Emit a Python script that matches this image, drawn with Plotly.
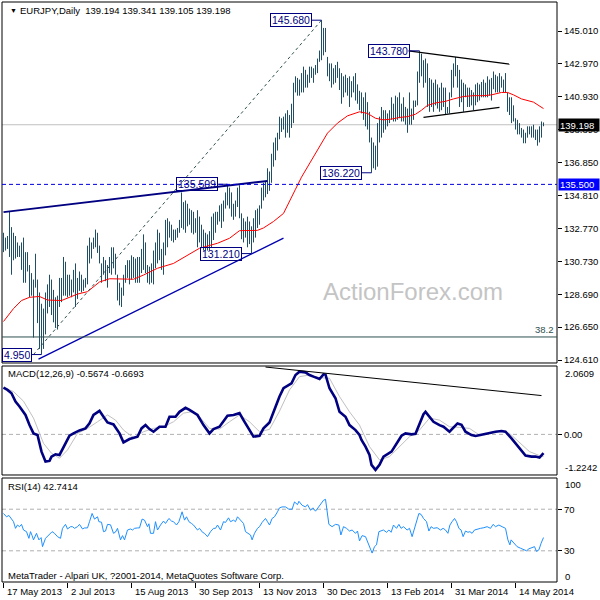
import plotly.graph_objects as go

# ---------------- data ----------------
date_labels = ["17 May 2013", "2 Jul 2013", "15 Aug 2013", "30 Sep 2013", "13 Nov 2013",
               "30 Dec 2013", "13 Feb 2014", "31 Mar 2014", "14 May 2014"]
date_label_idx = [0, 32, 64, 96, 128, 160, 192, 224, 256]

price_ticks = [145.010, 142.970, 140.930, 138.890, 136.850, 134.810, 132.770, 130.730, 128.690, 126.650, 124.610]

opens = [
 132.3,131.6,132.0,132.2,131.3,130.8,131.9,131.3,131.5,131.2,
 131.6,129.8,130.8,130.4,128.8,129.5,129.3,129.5,127.4,125.8,
 127.7,126.2,128.4,128.9,129.5,127.8,127.3,128.2,128.4,129.4,
 128.9,130.7,129.2,129.6,129.0,128.9,130.0,128.4,129.5,129.3,
 129.1,129.2,129.4,131.4,131.0,131.6,131.8,132.4,131.7,130.6,
 130.0,130.8,129.8,130.1,130.9,130.3,131.2,129.9,128.6,128.4,
 128.8,129.6,130.2,130.4,129.6,130.8,130.3,130.6,129.7,130.8,
 131.3,131.9,130.4,129.8,130.1,129.6,131.1,131.5,132.3,131.0,
 130.5,131.6,133.0,132.2,132.9,132.3,132.5,132.2,132.6,133.1,
 134.4,133.0,134.2,133.3,133.5,132.9,133.4,132.7,133.5,132.2,
 132.4,131.7,132.2,131.6,132.4,133.2,132.5,133.6,133.3,134.0,
 133.2,134.3,134.8,134.6,135.0,133.8,134.1,134.2,135.0,133.7,
 132.5,133.0,132.5,133.1,132.0,132.6,133.1,133.7,133.3,134.0,
 135.1,135.0,135.5,136.2,135.8,137.2,137.4,138.2,138.3,139.5,
 139.0,139.4,138.8,139.8,139.2,140.3,141.6,141.5,141.8,141.3,
 142.2,141.6,142.3,141.8,142.6,142.4,142.5,142.7,143.1,143.6,
 145.1,144.6,143.4,142.5,142.7,142.7,142.0,142.6,142.4,141.6,
 141.7,141.2,142.0,141.4,140.9,141.6,141.5,141.2,140.9,140.4,
 140.7,139.9,140.6,139.3,138.4,136.9,137.7,137.0,138.9,139.4,
 139.0,139.8,139.3,139.7,139.6,140.5,139.8,140.7,139.9,140.5,
 139.7,140.3,139.5,139.9,139.5,139.9,140.4,140.5,142.2,143.2,
 142.5,142.9,142.2,140.6,141.8,140.6,141.5,140.7,141.4,140.3,
 141.5,140.8,140.1,140.2,140.9,142.3,142.6,142.5,141.8,140.6,
 141.6,141.0,141.3,140.6,141.2,140.7,140.9,141.5,141.1,141.5,
 141.2,141.7,141.2,141.9,141.3,141.9,141.7,142.0,141.5,142.1,
 141.8,141.5,141.2,140.3,140.0,140.4,139.6,139.2,138.8,138.9,
 138.6,138.3,138.4,138.9,138.8,138.6,138.5,138.4,138.2,138.9,139.194]

highs = [
 132.5,132.2,132.3,133.8,132.85,132.5,132.3,131.9,131.7,131.9,
 132.2,131.3,131.3,130.5,130.0,129.6,131.2,129.6,128.8,128.1,
 127.8,128.8,129.3,129.9,129.6,128.96,128.5,128.6,129.7,129.7,
 131.0,130.7,129.9,129.9,129.6,130.2,130.6,129.7,130.1,129.9,
 129.6,129.7,131.7,132.2,131.9,132.2,132.7,132.5,131.7,130.6,
 131.0,130.8,130.5,131.0,131.6,131.6,131.2,129.9,129.4,129.1,
 129.9,130.5,130.8,130.8,131.1,131.0,130.9,131.0,131.0,131.5,
 132.4,131.9,130.5,130.4,130.6,131.4,131.9,132.7,132.5,131.5,
 131.9,133.3,133.4,133.2,133.0,132.7,132.7,132.8,133.3,135.0,
 134.4,134.5,134.3,134.0,133.9,133.8,133.4,133.9,133.5,133.0,
 132.7,132.5,132.4,132.6,133.5,133.7,133.8,133.8,134.2,134.3,
 134.5,135.0,135.51,135.3,135.0,134.3,134.5,135.3,135.45,133.7,
 133.4,133.2,133.5,133.2,132.9,133.4,133.9,134.0,134.2,135.3,
 135.6,135.7,136.5,136.3,137.4,138.1,138.4,138.7,139.7,139.6,
 139.7,139.9,140.1,139.8,140.5,141.8,142.2,142.1,142.0,142.4,
 142.8,142.6,142.3,142.8,142.8,142.7,142.9,143.3,143.8,145.68,
 145.2,145.2,143.4,143.0,143.0,142.7,142.9,143.1,142.7,142.4,
 142.2,142.3,142.1,142.2,141.9,142.2,142.4,141.7,141.3,141.2,
 140.9,141.2,140.6,140.0,138.4,138.1,137.9,139.3,139.7,140.3,
 140.1,140.1,139.9,140.1,140.9,140.5,141.0,140.9,141.2,140.5,
 140.9,140.3,140.2,141.2,140.2,140.7,140.7,142.5,143.78,143.6,
 143.2,143.3,143.0,142.1,142.0,141.8,142.0,141.7,141.5,141.8,
 141.5,141.5,140.3,141.2,142.6,143.0,143.4,142.9,142.6,142.0,
 141.8,141.7,141.5,141.5,141.35,141.2,141.7,141.8,141.7,141.85,
 142.0,141.8,142.2,142.0,142.1,142.5,142.3,142.2,142.4,142.2,
 142.0,142.4,141.2,140.9,140.9,140.4,139.6,139.5,139.3,139.0,
 138.9,138.7,139.1,139.1,139.1,139.2,138.9,138.9,139.1,139.4,139.341]

lows = [
 131.3,131.4,131.5,131.0,129.9,130.8,130.9,131.0,131.0,130.2,
 129.4,129.4,130.1,128.5,128.6,126.0,129.1,126.9,125.3,124.95,
 125.3,126.2,127.5,127.9,127.4,126.95,126.6,126.5,127.9,128.2,
 128.6,128.6,128.5,128.6,128.5,128.8,127.9,128.4,128.9,128.8,
 128.9,129.1,129.3,130.6,130.9,131.5,131.6,131.25,130.6,129.4,
 129.9,129.5,129.1,130.0,129.9,130.3,129.9,128.3,128.0,127.9,
 128.6,129.4,129.7,129.3,129.6,129.7,129.4,129.4,129.4,130.0,
 130.2,130.0,129.4,129.3,129.4,129.3,130.3,130.6,130.8,130.2,
 129.9,131.1,131.6,132.2,132.0,131.9,132.05,132.2,132.5,132.8,
 132.7,132.5,132.9,133.0,132.5,132.4,132.5,131.6,131.9,131.6,
 131.4,131.4,131.4,131.4,131.6,132.05,132.5,133.0,133.2,132.8,
 133.2,134.0,134.2,134.0,133.5,133.3,133.5,134.1,133.4,132.1,
 131.9,132.2,131.6,131.8,131.21,131.9,132.2,132.8,133.0,134.0,
 134.5,134.7,134.9,135.1,135.6,136.6,137.0,137.6,138.3,138.75,
 138.9,138.4,138.7,138.4,139.0,139.3,141.2,141.0,141.0,141.2,
 141.2,141.5,141.5,141.8,142.1,141.8,142.3,142.4,143.1,143.2,
 143.5,143.7,142.2,141.9,141.5,141.7,141.8,142.1,141.35,140.5,
 140.9,141.2,141.0,140.3,140.9,141.2,140.7,140.5,140.1,139.9,
 139.5,139.1,138.9,138.1,136.22,136.5,136.4,136.6,138.1,138.4,
 138.7,138.9,139.1,139.3,139.5,139.4,139.4,139.5,139.6,139.4,
 139.4,139.2,138.7,139.2,139.2,139.5,140.3,140.4,141.8,142.2,
 141.5,141.8,140.3,140.0,140.3,140.0,140.4,140.2,140.0,140.1,
 140.3,139.8,139.9,139.9,140.9,141.5,142.2,141.5,140.3,140.6,
 140.0,140.9,140.3,140.3,140.4,140.1,140.4,140.6,140.7,140.9,
 140.9,140.9,140.9,141.0,140.7,141.4,141.2,141.2,141.2,141.5,
 141.2,141.2,140.0,139.8,139.3,139.4,138.9,138.6,138.6,138.4,
 138.05,138.05,138.4,138.6,138.4,138.4,138.25,137.9,138.1,138.4,139.105]

closes = [
 131.6,132.0,132.2,131.3,130.8,131.9,131.3,131.5,131.2,131.6,
 129.8,130.8,130.4,128.8,129.5,127.0,130.9,127.4,125.8,127.7,
 126.2,128.4,128.9,129.5,127.8,127.3,128.2,128.4,129.4,128.9,
 130.7,129.2,129.6,129.0,128.9,130.0,128.4,129.5,129.3,129.1,
 129.2,129.4,131.4,131.0,131.6,131.8,132.4,131.7,130.8,129.6,
 130.9,129.8,129.3,130.9,130.3,131.3,130.1,128.6,128.4,128.8,
 129.6,130.2,130.4,129.6,130.8,130.3,130.6,129.7,130.8,131.3,
 131.9,130.4,129.8,130.1,129.6,131.1,131.5,132.3,131.0,130.5,
 131.6,133.0,132.1,132.9,132.3,132.5,132.2,132.6,133.1,134.6,
 133.0,134.2,133.3,133.5,132.9,133.4,132.7,133.5,132.2,132.4,
 131.7,132.2,131.6,132.4,133.2,132.4,133.6,133.3,134.0,133.2,
 134.3,134.8,134.6,135.0,133.8,134.1,134.2,135.0,133.7,132.5,
 133.0,132.5,133.1,132.0,132.6,133.1,133.7,133.3,134.0,135.1,
 135.0,135.5,136.2,135.8,137.2,137.4,138.2,138.0,139.5,139.0,
 139.4,138.8,139.9,139.2,140.3,141.6,141.5,141.8,141.3,142.2,
 141.6,142.3,141.8,142.6,142.4,142.5,142.7,143.1,143.6,145.1,
 144.6,143.9,142.5,142.7,142.8,142.0,142.6,142.4,141.6,141.7,
 141.2,142.0,141.4,140.8,141.6,141.5,141.2,140.9,140.4,140.7,
 139.9,140.6,139.3,138.4,136.9,137.7,137.0,138.9,139.4,139.0,
 139.8,139.3,139.7,139.6,140.6,139.8,140.7,139.9,140.9,139.7,
 140.6,139.5,139.9,139.5,139.9,140.4,140.5,142.2,143.2,142.5,
 142.9,142.2,140.6,141.8,140.6,141.5,140.7,141.4,140.3,141.5,
 140.8,140.1,140.2,140.9,142.3,142.6,142.5,141.8,140.6,141.6,
 140.4,141.3,140.6,141.2,140.7,140.9,141.5,141.1,141.5,141.2,
 141.7,141.2,141.9,141.3,141.9,141.7,142.0,141.5,142.1,141.8,
 141.5,141.3,140.3,140.0,140.6,139.6,139.2,138.8,138.9,138.6,
 138.3,138.4,138.9,138.8,138.6,138.5,138.4,138.2,138.9,139.2,139.198]

# moving average (red) read at bar positions
ma_points = [(0,127.0),(5,127.8),(9,128.3),(13,128.5),(18,128.55),(22,128.33),(29,128.3),(33,128.5),
             (37,128.7),(42,128.85),(48,129.45),(53,129.65),(58,129.62),(65,129.62),(70,129.88),
             (77,130.3),(85,130.6),(92,131.1),(98,131.54),(107,131.85),(113,132.16),(118,132.63),
             (122,132.65),(127,132.65),(130,132.8),(135,133.2),(140,133.7),(143,134.5),(146,135.2),
             (149,135.95),(152,136.6),(155,137.2),(159,138.05),(162,138.68),(167,139.3),(172,139.75),
             (178,140.0),(182,139.9),(186,139.6),(190,139.5),(194,139.55),(198,139.65),(202,139.7),
             (206,139.85),(209,140.1),(212,140.4),(216,140.55),(221,140.65),(225,140.8),(230,140.95),
             (235,141.0),(240,141.0),(244,141.05),(249,141.2),(252,141.2),(255,141.05),(259,140.8),
             (265,140.6),(270,140.2)]

macd_points = [(0,1.41),(2,1.34),(4,1.24),(6,0.99),(8,0.84),(11,0.585),(13,0.28),(15,0.03),(17,-0.02),
               (18,-0.26),(19,-0.52),(21,-0.82),(23,-0.80),(24,-0.67),(26,-0.60),(28,-0.62),(30,-0.37),
               (33,-0.04),(35,0.03),(38,0.12),(41,0.18),(43,0.33),(45,0.585),(48,0.71),(50,0.53),
               (52,0.36),(55,0.30),(58,0.03),(60,-0.24),(63,-0.14),(67,-0.07),(69,0.18),(71,0.28),
               (73,0.16),(75,0.08),(78,0.23),(81,0.23),(83,0.53),(86,0.53),(88,0.68),(91,0.80),
               (93,0.74),(97,0.585),(100,0.28),(103,0.03),(105,0.16),(108,0.23),(112,0.56),(115,0.585),
               (118,0.64),(120,0.43),(123,0.13),(125,-0.07),(128,-0.04),(130,0.18),(133,0.36),
               (135,0.68),(138,1.14),(140,1.39),(143,1.49),(144,1.54),(146,1.79),(148,1.89),(151,1.87),
               (153,1.79),(155,1.74),(158,1.67),(160,1.81),(161,1.80),(163,1.39),(166,1.09),(168,0.68),
               (171,0.53),(173,0.28),(176,0.13),(178,-0.02),(179,-0.17),(181,-0.37),(183,-0.62),
               (184,-0.92),(186,-1.07),(188,-0.92),(190,-0.67),(194,-0.52),(196,-0.32),(199,-0.04),
               (201,0.03),(204,0.0),(206,0.02),(208,0.33),(210,0.61),(211,0.68),(213,0.53),(215,0.38),
               (218,0.28),(220,0.23),(223,0.08),(225,0.20),(227,0.33),(229,0.29),(231,0.08),(234,-0.02),
               (236,-0.05),(239,-0.01),(242,0.03),(246,0.08),(249,0.10),(251,0.08),(254,-0.12),
               (256,-0.27),(259,-0.50),(261,-0.64),(264,-0.67),(266,-0.67),(268,-0.70),(270,-0.5674)]

signal_points = [(0,1.41),(5,1.29),(10,1.0),(15,0.49),(20,-0.27),(24,-0.57),(28,-0.72),(32,-0.47),
                 (37,0.03),(42,0.18),(47,0.38),(52,0.585),(56,0.43),(60,0.13),(65,-0.10),(70,0.08),
                 (75,0.18),(80,0.23),(85,0.38),(90,0.64),(94,0.68),(98,0.53),(103,0.18),(108,0.16),
                 (113,0.38),(118,0.585),(123,0.38),(128,0.08),(133,0.15),(138,0.70),(143,1.34),
                 (148,1.74),(153,1.79),(158,1.71),(163,1.69),(168,1.14),(173,0.68),(178,0.28),
                 (183,-0.37),(188,-0.77),(193,-0.67),(198,-0.37),(203,-0.07),(208,0.13),(213,0.49),
                 (218,0.43),(223,0.23),(228,0.21),(233,0.18),(238,-0.02),(243,0.03),(248,0.10),
                 (253,0.03),(258,-0.23),(263,-0.52),(268,-0.64),(270,-0.6693)]

rsi_points = [(0,65.9),(1.5,62.7),(2.7,64),(3.8,61),(5,58),(6,51.6),(7,54.8),(8,53.2),(9,55.4),(10,50),
              (11.5,48.4),(12.7,42),(13.5,48.4),(14.3,44.6),(15,40.5),(16.5,46.8),(17.7,40.5),(18.8,42.7),
              (19.5,34),(21,42),(22.7,45.2),(24.3,48.4),(25.5,46.8),(27,43.6),(28.5,42),(29.5,51.6),
              (31,55.4),(32,51),(33.5,53.2),(34.5,53.2),(35.5,51.6),(37,53.2),(38,55.4),(39.5,51),
              (40.5,52),(42,52),(43,58),(44.3,65.9),(45.5,60.5),(47,62.7),(47.7,58),(49,57.5),(50,48.4),
              (51,49),(52,55.4),(53.5,55),(55,46.8),(56,48),(57,51.6),(58.5,40.5),(59.5,44.6),
              (60.5,40.5),(62,50),(63.5,51),(64.5,50),(65.5,51.6),(67,52),(68,52),(69.3,60.5),
              (70.5,59.5),(72,53.2),(72.7,56),(73.5,46.8),(75,46.8),(76,58),(77,50),(78.5,54.8),
              (80,58.6),(81,56.3),(82.7,61.1),(84,58.6),(85,58),(86.5,54.8),(87.7,58),(89.3,67.5),
              (90.5,59.5),(91.5,62.7),(92.7,58),(94,56.3),(95,54.8),(97,50),(98,51.6),(99.5,47.8),
              (100.5,46.8),(102,43.6),(103.5,48.4),(105,51.6),(106,51.6),(107,54.8),(108.5,50),(110,58),
              (111,57.3),(112.5,61.7),(113.5,58),(115,59.5),(116,58),(117,62.7),(118.5,59.5),(120,56.3),
              (121,48.4),(122.5,46.8),(123.5,45.2),(124.3,40.5),(125.5,46.8),(127,51.6),(128,53.2),
              (129.3,57.3),(131,61.1),(132,58),(133,54.8),(134.3,61.1),(135.5,62.7),(137,67.5),
              (138,71.3),(139.3,72.2),(141,72.2),(142.7,70),(144.3,70),(145.5,77),(147,74.4),
              (147.7,77.6),(149.3,73.8),(151,72.2),(152,74.4),(153.5,69),(154.7,71.3),(156,68.1),
              (157.2,71.3),(158.5,75.4),(160,78.6),(161,79.5),(162,67.5),(162.7,55.4),(164.3,53.2),
              (166,55.4),(167.7,54.8),(168.7,45.2),(170,53.2),(171.5,51.6),(173,49),(174.3,50),
              (176,46.8),(177,49),(178,39.5),(179.3,44.6),(181,43.6),(182.2,37.3),(183.2,33.2),
              (184.3,27.8),(185.5,34),(186.5,35.7),(187.7,48.4),(188.8,49),(190,50),(191.5,47.8),
              (192.7,50),(193.8,47.8),(195,54.8),(196.5,51.6),(197.7,55.4),(198.8,51.6),(200,53.2),
              (201.8,50),(203,51.6),(204.3,43.6),(205.5,51.6),(206.8,59.5),(207.7,65.9),(208.8,65),
              (210,61.1),(211.5,58),(212.7,49),(213.8,53.2),(215,51.6),(216.8,52.2),(218.5,50),
              (219.8,51.6),(221,50),(222.2,46.8),(223.2,54.8),(224.3,58),(225.5,61.1),(226.5,58),
              (227.7,51.6),(228.8,50),(229.8,43.6),(231,49),(232.2,47.8),(233.2,48.4),(234.3,46.8),
              (235.5,50),(236.8,51),(238.5,51.6),(240.2,52.2),(241.8,53.2),(243.5,51.6),(244.8,55.4),
              (246,53.2),(247.7,54.8),(249.3,53.2),(251,51.6),(252.2,40.5),(253.2,35.7),(253.8,40.5),
              (255.2,37.3),(256.8,34),(258.5,32.5),(260.2,30.9),(261.5,30),(262.7,31.9),(264.3,33.2),
              (265.5,34),(266.5,29.4),(267.7,30.9),(268.8,37.3),(270,42.74)]

# price labels: (bar index, price, text)
label_bars = [159, 208, 184, 112, 124, 19]
label_prices = [145.68, 143.78, 136.22, 135.509, 131.21, 124.95]
label_texts = ["145.680", "143.780", "136.220", "135.509", "131.210", "4.950"]

# drawn lines (bar index, price)
upper_trend = [(0, 133.78), (132, 135.71)]
lower_trend = [(17.5, 124.67), (140, 132.17)]
diag_line = [(15, 124.95), (159, 145.68)]
tri_upper = [(202.5, 143.78), (253, 142.95)]
tri_lower = [(210, 139.66), (248, 140.28)]
macd_trend = [(131, 2.03), (269, 1.17)]
last_price = 139.198
level_line = 135.5
fib_level = 126.04

assert len(opens) == len(highs) == len(lows) == len(closes) == 271

# ---------------- figure ----------------
FONT = "Liberation Sans, Arial, sans-serif"
BAR = "#1f4f66"
NAVY = "#000080"
idx = list(range(len(closes)))

fig = go.Figure()

fig.add_trace(go.Ohlc(x=idx, open=opens, high=highs, low=lows, close=closes,
                      increasing=dict(line=dict(color=BAR, width=1)),
                      decreasing=dict(line=dict(color=BAR, width=1)),
                      tickwidth=0.05, hoverinfo="skip", showlegend=False,
                      xaxis="x", yaxis="y"))

def line_trace(pts, color, width, yaxis="y", dash=None):
    xs = [p[0] for p in pts]
    ys = [p[1] for p in pts]
    return go.Scatter(x=xs, y=ys, mode="lines", yaxis=yaxis, xaxis="x",
                      line=dict(color=color, width=width, dash=dash),
                      hoverinfo="skip", showlegend=False)

fig.add_trace(line_trace(ma_points, "#ff0000", 1))
fig.add_trace(line_trace(upper_trend, NAVY, 2))
fig.add_trace(line_trace(lower_trend, "#0000b0", 1.3))
fig.add_trace(line_trace(diag_line, "#2f4f4f", 1, dash="3px,3px"))
fig.add_trace(line_trace(tri_upper, "#000000", 1.3))
fig.add_trace(line_trace(tri_lower, "#000000", 1.3))

# connectors of price labels
for b, p in zip(label_bars, label_prices):
    fig.add_trace(line_trace([(b - 5, p), (b, p)], NAVY, 1))

fig.add_trace(line_trace(signal_points, "#c0c0c0", 1, yaxis="y2"))
fig.add_trace(line_trace(macd_points, NAVY, 2.6, yaxis="y2"))
fig.add_trace(line_trace(macd_trend, "#000000", 1, yaxis="y2"))
fig.add_trace(line_trace(rsi_points, "#1e90ff", 1, yaxis="y3"))

PRICE_DOM = [0.3776, 1.0]
MACD_DOM = [0.1845, 0.3724]
RSI_DOM = [0.0, 0.1793]

shapes = []
for dom in (PRICE_DOM, MACD_DOM, RSI_DOM):
    shapes.append(dict(type="rect", xref="paper", yref="paper", x0=0, x1=1, y0=dom[0], y1=dom[1],
                       line=dict(color="black", width=1), layer="above"))
shapes.append(dict(type="line", xref="paper", yref="y", x0=0, x1=1, y0=last_price, y1=last_price,
                   line=dict(color="#c0c0c0", width=1), layer="below"))
shapes.append(dict(type="line", xref="paper", yref="y", x0=0, x1=1, y0=level_line, y1=level_line,
                   line=dict(color="#0000e0", width=1, dash="4px,3px")))
shapes.append(dict(type="line", xref="paper", yref="y", x0=0, x1=1, y0=fib_level, y1=fib_level,
                   line=dict(color="#2f4f4f", width=1)))
shapes.append(dict(type="line", xref="paper", yref="y2", x0=0, x1=1, y0=0, y1=0,
                   line=dict(color="#b0b0b0", width=1, dash="4px,3px"), layer="below"))
for lv in (70, 30):
    shapes.append(dict(type="line", xref="paper", yref="y3", x0=0, x1=1, y0=lv, y1=lv,
                       line=dict(color="#b0b0b0", width=1, dash="4px,3px"), layer="below"))

def py(px):
    return (582 - px) / 580.0

def pxx(px):
    return (px - 2) / 555.0

ann = []
ann.append(dict(xref="paper", yref="paper", x=pxx(8), y=py(10), xanchor="left", yanchor="middle",
                text="▼", showarrow=False, font=dict(family=FONT, size=7, color="black")))
ann.append(dict(xref="paper", yref="paper", x=pxx(18), y=py(10), xanchor="left", yanchor="middle",
                text="EURJPY,Daily\u00a0\u00a0139.194 139.341 139.105 139.198", showarrow=False,
                font=dict(family=FONT, size=9.5, color="black")))
ann.append(dict(xref="paper", yref="paper", x=pxx(6), y=py(374), xanchor="left", yanchor="middle",
                text="MACD(12,26,9) -0.5674 -0.6693", showarrow=False,
                font=dict(family=FONT, size=9.5, color="black")))
ann.append(dict(xref="paper", yref="paper", x=pxx(6), y=py(486), xanchor="left", yanchor="middle",
                text="RSI(14) 42.7414", showarrow=False, font=dict(family=FONT, size=9.5, color="black")))
ann.append(dict(xref="paper", yref="paper", x=pxx(6), y=py(575), xanchor="left", yanchor="middle",
                text="MetaTrader - Alpari UK, ?2001-2014, MetaQuotes Software Corp.", showarrow=False,
                font=dict(family=FONT, size=9.5, color="black")))
ann.append(dict(xref="paper", yref="paper", x=pxx(413), y=py(291), xanchor="center", yanchor="middle",
                text="ActionForex.com", showarrow=False, font=dict(family=FONT, size=24, color="#c4c4c4")))
ann.append(dict(xref="paper", yref="y", x=1, y=fib_level, xanchor="right", yanchor="bottom",
                xshift=-1, text="38.2", showarrow=False, font=dict(family=FONT, size=9.5, color="#2f4f4f")))

# indicator scale labels
for txt, ypx in (("2.0609", 374), ("-1.2242", 468), ("100", 485), ("0", 576)):
    ann.append(dict(xref="paper", yref="paper", x=1, y=py(ypx), xanchor="left", yanchor="middle",
                    xshift=6, text=txt, showarrow=False, font=dict(family=FONT, size=9.5, color="black")))

# price tags on the axis
ann.append(dict(xref="paper", yref="y", x=1, y=last_price, xanchor="left", yanchor="middle", xshift=1,
                text="139.198", showarrow=False, bgcolor="#000000", width=38, height=10, borderpad=1,
                align="left", font=dict(family=FONT, size=9.5, color="white")))
ann.append(dict(xref="paper", yref="y", x=1, y=level_line, xanchor="left", yanchor="middle", xshift=1,
                text="135.500", showarrow=False, bgcolor="#0000ff", width=38, height=9, borderpad=1,
                align="left", font=dict(family=FONT, size=9.5, color="white")))

# boxed price labels (transparent boxes, as drawn on the terminal)
for b, p, t in zip(label_bars, label_prices, label_texts):
    ann.append(dict(xref="x", yref="y", x=b - 5, y=p, xanchor="right", yanchor="middle",
                    text=t, showarrow=False, bgcolor="rgba(0,0,0,0)", bordercolor=NAVY, borderwidth=1,
                    borderpad=1, height=10, font=dict(family=FONT, size=10.5, color=NAVY)))

# date labels
for i, t in zip(date_label_idx, date_labels):
    ann.append(dict(xref="x", yref="paper", x=i, y=py(591), xanchor="left", yanchor="middle",
                    xshift=1, text=t, showarrow=False, font=dict(family=FONT, size=9.5, color="black")))

tickfont = dict(family=FONT, size=9.5, color="black")
fig.update_layout(
    width=600, height=600, template="none",
    paper_bgcolor="white", plot_bgcolor="white",
    margin=dict(l=2, r=43, t=2, b=18),
    showlegend=False,
    xaxis=dict(domain=[0, 1], range=[-0.75, 276.75], anchor="y3", showgrid=False, zeroline=False,
               tickvals=date_label_idx, ticks="outside", ticklen=5, tickcolor="black",
               showticklabels=False, showline=False, rangeslider=dict(visible=False)),
    yaxis=dict(domain=PRICE_DOM, range=[124.427, 146.808], side="right", anchor="x",
               tickvals=price_ticks, ticktext=["%.3f" % v for v in price_ticks],
               ticks="outside", ticklen=4, tickcolor="black", showgrid=False, zeroline=False,
               showline=False, tickfont=tickfont),
    yaxis2=dict(domain=MACD_DOM, range=[-1.2242, 2.0609], side="right", anchor="x",
                tickvals=[0], ticktext=["0.00"], ticks="outside", ticklen=4, tickcolor="black",
                showgrid=False, zeroline=False, showline=False, tickfont=tickfont),
    yaxis3=dict(domain=RSI_DOM, range=[0, 100], side="right", anchor="x",
                tickvals=[70, 30], ticktext=["70", "30"], ticks="outside", ticklen=4, tickcolor="black",
                showgrid=False, zeroline=False, showline=False, tickfont=tickfont),
    shapes=shapes, annotations=ann,
)

fig.write_html("out.html", config={"displayModeBar": False},
               post_script="document.body.style.margin='0';document.body.style.overflow='hidden';")
